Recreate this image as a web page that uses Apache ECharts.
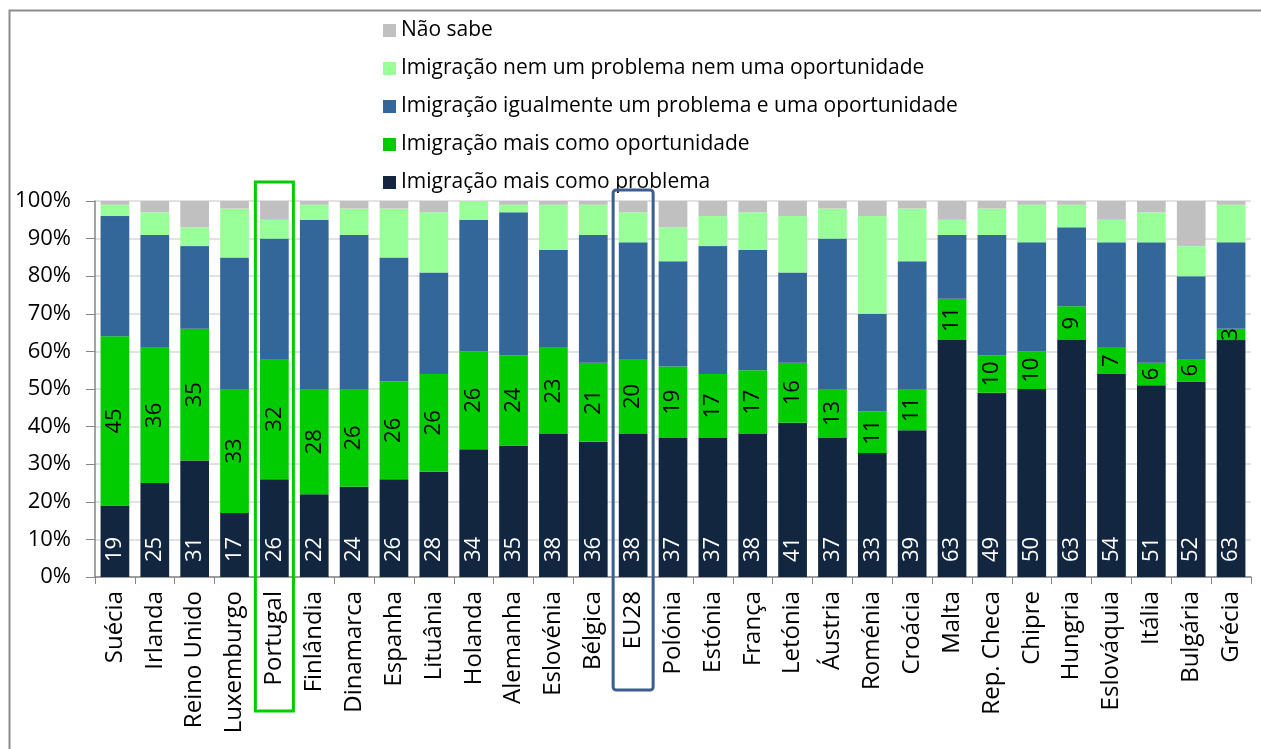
<!DOCTYPE html>
<html>
<head>
<meta charset="utf-8">
<title>Imigração: problema ou oportunidade</title>
<script src="https://cdn.jsdelivr.net/npm/echarts@6/dist/echarts.min.js"></script>
<style>
  html, body { margin: 0; padding: 0; background: #fff; }
  #chart { width: 1261px; height: 749px; }
</style>
</head>
<body>
<div id="chart"></div>
<script>
// categorias (países + média EU28)
const paises = ['Suécia', 'Irlanda', 'Reino Unido', 'Luxemburgo', 'Portugal', 'Finlândia', 'Dinamarca', 'Espanha',
  'Lituânia', 'Holanda', 'Alemanha', 'Eslovénia', 'Bélgica', 'EU28', 'Polónia', 'Estónia', 'França', 'Letónia',
  'Áustria', 'Roménia', 'Croácia', 'Malta', 'Rep. Checa', 'Chipre', 'Hungria', 'Eslováquia', 'Itália', 'Bulgária', 'Grécia'];

// valores em %
const maisProblema      = [19, 25, 31, 17, 26, 22, 24, 26, 28, 34, 35, 38, 36, 38, 37, 37, 38, 41, 37, 33, 39, 63, 49, 50, 63, 54, 51, 52, 63];
const maisOportunidade  = [45, 36, 35, 33, 32, 28, 26, 26, 26, 26, 24, 23, 21, 20, 19, 17, 17, 16, 13, 11, 11, 11, 10, 10, 9, 7, 6, 6, 3];
const igualmente        = [32, 30, 22, 35, 32, 45, 41, 33, 27, 35, 38, 26, 34, 31, 28, 34, 32, 24, 40, 26, 34, 17, 32, 29, 21, 28, 32, 22, 23];
const nemNem            = [3, 6, 5, 13, 5, 4, 7, 13, 16, 5, 2, 12, 8, 8, 9, 8, 10, 15, 8, 26, 14, 4, 7, 10, 6, 6, 8, 8, 10];
const naoSabe           = [1, 3, 7, 2, 5, 1, 2, 2, 3, 0, 1, 1, 1, 3, 7, 4, 3, 4, 2, 4, 2, 5, 2, 1, 1, 5, 3, 12, 1];

const yTicks = [0, 10, 20, 30, 40, 50, 60, 70, 80, 90, 100];

const nomes = {
  problema: 'Imigração mais como problema',
  oportunidade: 'Imigração mais como oportunidade',
  igual: 'Imigração igualmente um problema e uma oportunidade',
  nem: 'Imigração nem um problema nem uma oportunidade',
  ns: 'Não sabe'
};

const FONT = '"Open Sans", sans-serif';
const chart = echarts.init(document.getElementById('chart'));

function serie(name, data, color, label) {
  return {
    name: name,
    type: 'bar',
    stack: 'total',
    barCategoryGap: '28%',
    data: data,
    itemStyle: { color: color },
    label: label || { show: false },
    emphasis: { disabled: true }
  };
}

let option = {
  animation: false,
  textStyle: { fontFamily: FONT },
  title: {
    text: 'Imigração como problema ou oportunidade, por país (EU28)',
    left: 'center',
    top: -28,
    textStyle: { fontSize: 22, fontWeight: 'bold', color: '#000', fontFamily: FONT }
  },
  legend: {
    orient: 'vertical',
    left: 378,
    top: 15,
    itemWidth: 13,
    itemHeight: 13,
    itemGap: 17,
    icon: 'rect',
    data: [nomes.ns, nomes.nem, nomes.igual, nomes.oportunidade, nomes.problema],
    textStyle: { fontSize: 21, color: '#000', lineHeight: 20, fontFamily: FONT }
  },
  grid: { left: 95, right: 10, top: 201, bottom: 172 },
  xAxis: {
    type: 'category',
    data: paises,
    axisLine: { lineStyle: { color: '#868686', width: 1.5 } },
    axisTick: { show: true, length: 7, lineStyle: { color: '#868686' } },
    axisLabel: { rotate: 90, interval: 0, margin: 14, fontSize: 24, color: '#000', fontFamily: FONT }
  },
  yAxis: {
    type: 'value',
    min: yTicks[0],
    max: yTicks[yTicks.length - 1],
    interval: 10,
    axisLine: { show: true, lineStyle: { color: '#868686', width: 1.5 } },
    axisTick: { show: true, length: 9, lineStyle: { color: '#868686' } },
    splitLine: { lineStyle: { color: '#d9d9d9', width: 1.5 } },
    axisLabel: { formatter: '{value}%', fontSize: 22, margin: 24, color: '#000', fontFamily: FONT }
  },
  series: [
    serie(nomes.problema, maisProblema, '#13263f', {
      show: true, position: 'insideBottom', rotate: 90, align: 'left', verticalAlign: 'middle',
      distance: 15, color: '#fff', fontSize: 22, fontFamily: FONT
    }),
    serie(nomes.oportunidade, maisOportunidade, '#00cc00', {
      show: true, position: 'inside', rotate: 90, color: '#000', fontSize: 22, fontFamily: FONT
    }),
    serie(nomes.igual, igualmente, '#336699'),
    serie(nomes.nem, nemNem, '#99ff99'),
    serie(nomes.ns, naoSabe, '#c0c0c0')
  ]
};
chart.setOption(option);

// caixas de destaque (Portugal e EU28) + moldura, posicionadas a partir dos eixos
const yTop = chart.convertToPixel({ yAxisIndex: 0 }, 100);
const xPt = chart.convertToPixel({ xAxisIndex: 0 }, 'Portugal');
const xEu = chart.convertToPixel({ xAxisIndex: 0 }, 'EU28');
chart.setOption({
  graphic: [
    { type: 'rect', left: 7, top: 8, shape: { width: 1300, height: 800 }, style: { fill: 'none', stroke: '#8c8c8c', lineWidth: 2 }, silent: true },
    { type: 'rect', shape: { x: xPt - 19, y: yTop - 19, width: 38, height: 529, r: 0 }, style: { fill: 'none', stroke: '#00cc00', lineWidth: 3 }, z: 100 },
    { type: 'rect', shape: { x: xEu - 20, y: yTop - 11, width: 40, height: 500, r: 3 }, style: { fill: 'none', stroke: '#3a5f8f', lineWidth: 3 }, z: 100 }
  ]
});
</script>
</body>
</html>
